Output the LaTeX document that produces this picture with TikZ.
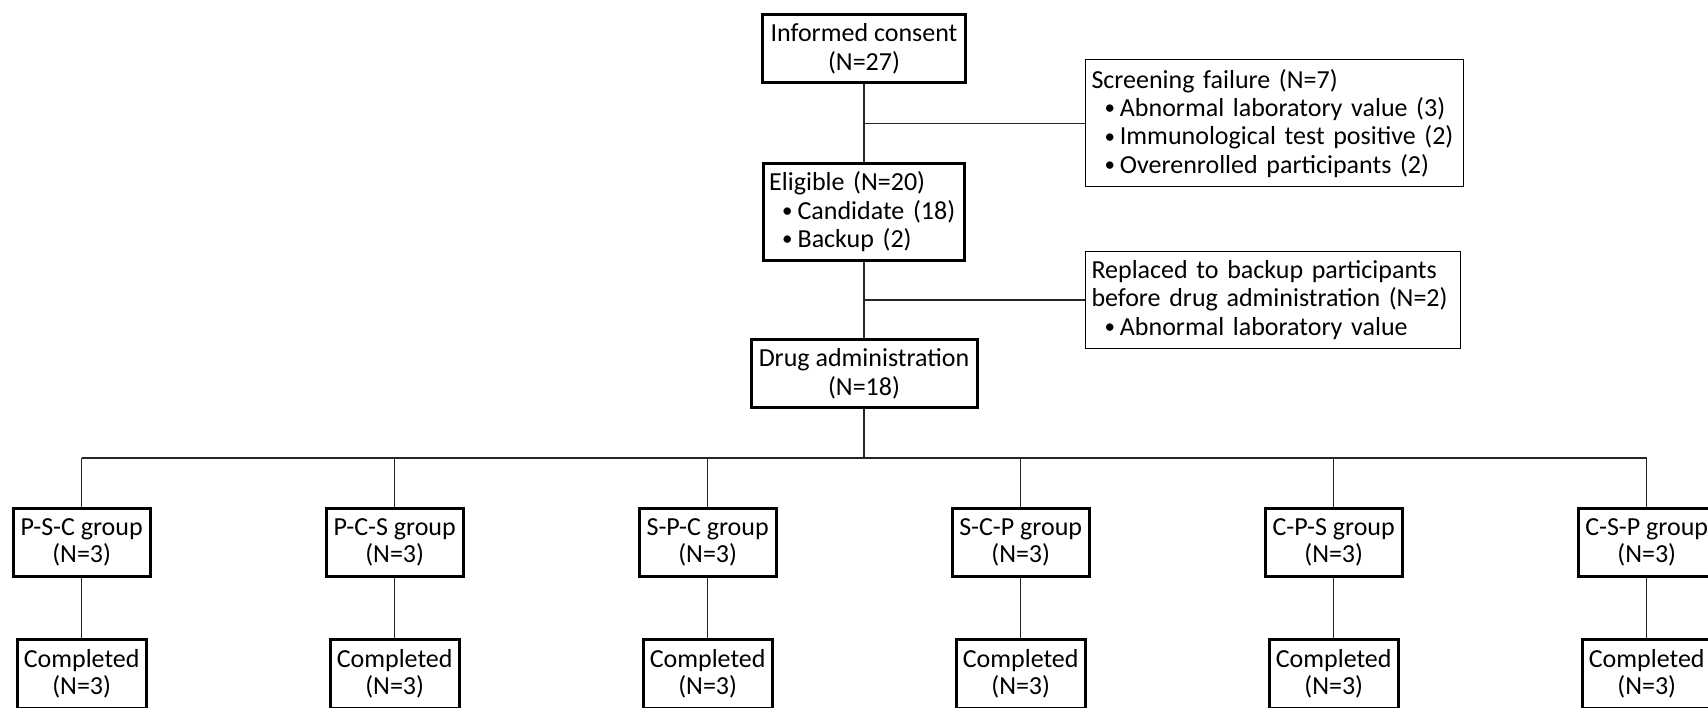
\documentclass[tikz,border=0pt]{standalone}
\usepackage{fontspec}
\setmainfont{Carlito}
\usetikzlibrary{calc}
\tikzset{
    block/.style = {draw, rectangle, line width=1.5pt, align=center,
        inner sep=3pt, minimum height=34pt,
        font=\fontsize{13}{14.2}\selectfont},
    note/.style = {draw, rectangle, line width=0.6pt, align=left,
        inner sep=3pt, font=\fontsize{13}{14.2}\selectfont},
    group/.style = {block, minimum width=68.4pt, minimum height=34.3pt,
        font=\fontsize{13}{13.4}\selectfont},
    done/.style = {group, minimum width=64.7pt},
    line/.style = {draw, line width=0.6pt, black!85}
}
\newcommand{\itm}{\hspace*{6.5pt}\makebox[7.7pt][l]{\fontsize{10.5}{10.5}\selectfont\raisebox{0.8pt}{•}}}

\begin{document}
\begin{tikzpicture}[x=0.5pt,y=-0.5pt]
        \useasboundingbox (0,0) rectangle (1708,707);
        % main column
        \node [block, minimum width=101.3pt] (consent) at (864,48.8) {Informed consent\\(N=27)};
        \node [block, align=left, text width=94.8pt, minimum height=48.5pt] (eligible) at (864,211.7)
            {Eligible (N=20)\\\itm Candidate (18)\\\itm Backup (2)};
        \node [block, minimum width=113pt] (drug) at (864,373.8) {Drug administration\\(N=18)};
        % exclusions
        \node [note, text width=183pt, minimum height=63.4pt] (screen) at (1274.5,123.2)
            {Screening failure (N=7)\\\itm Abnormal laboratory value (3)\\\itm Immunological test positive (2)\\\itm Overenrolled participants (2)};
        \node [note, text width=181.4pt, minimum height=48.8pt] (replaced) at (1272.9,300)
            {Replaced to backup participants\\before drug administration (N=2)\\\itm Abnormal laboratory value};
        \draw [line] (consent) -- (eligible);
        \draw [line] (consent |- screen.west) -- (screen.west);
        \draw [line] (eligible) -- (drug);
        \draw [line] (eligible |- replaced.west) -- (replaced.west);
        % groups
        \coordinate (bus) at (864,458);
        \foreach \i/\grp in {1/P-S-C,2/P-C-S,3/S-P-C,4/S-C-P,5/C-P-S,6/C-S-P} {
            \node [group] (g\i) at ({81.7+313*(\i-1)},542.5) {\grp{} group\\(N=3)};
            \node [done] (c\i) at ({81.7+313*(\i-1)},674.1) {Completed\\(N=3)};
            \draw [line] (bus -| g\i) -- (g\i);
            \draw [line] (g\i) -- (c\i);
        }
        \draw [line] (drug) -- (bus);
        \draw [line] (bus -| g1) -- (bus -| g6);
\end{tikzpicture}
\end{document}
